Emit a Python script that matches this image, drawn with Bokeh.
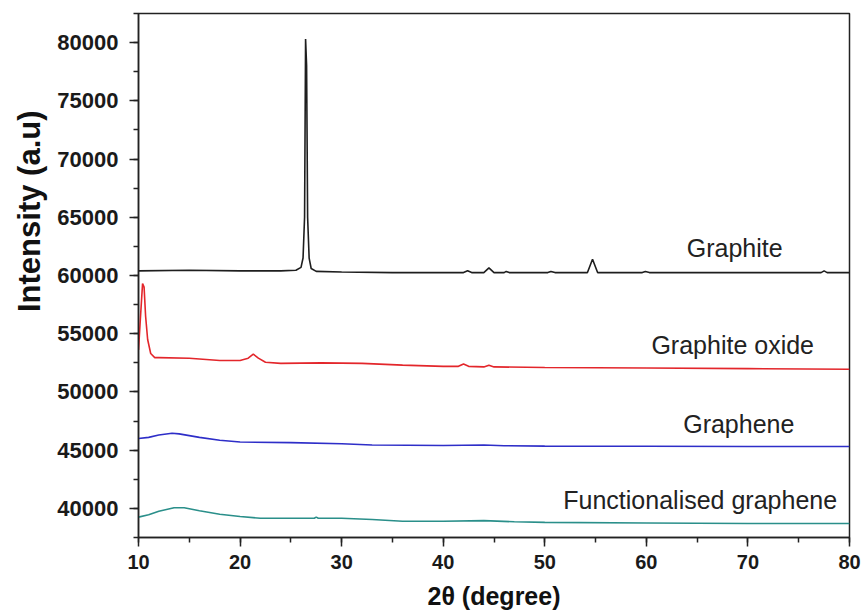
from bokeh.plotting import figure
from bokeh.models import SingleIntervalTicker, NumeralTickFormatter, Range1d, Title
from bokeh.core.properties import value
from bokeh.embed import file_html
from bokeh.resources import INLINE

# ---- data ----
graphite_x = [10, 15, 20, 24, 25.5, 26.0, 26.2, 26.35, 26.45, 26.55, 26.65, 26.8, 27.0, 27.5,
              30, 35, 40, 42.0, 42.4, 42.8, 44.0, 44.5, 45.0, 46.0, 46.2, 46.5, 50.3, 50.6,
              51.0, 54.2, 54.7, 55.2, 59.6, 59.9, 60.3, 70, 77.2, 77.5, 77.8, 80]
graphite_y = [60400, 60450, 60400, 60400, 60450, 60700, 61500, 65000, 80300, 78000, 65000,
              61500, 60600, 60350, 60300, 60250, 60250, 60250, 60400, 60250, 60250, 60650,
              60250, 60250, 60350, 60250, 60250, 60350, 60250, 60250, 61400, 60250, 60250,
              60350, 60250, 60250, 60250, 60400, 60250, 60250]

oxide_x = [10.0, 10.2, 10.4, 10.55, 10.7, 10.9, 11.2, 11.6, 12, 15, 18, 20, 20.8, 21.3, 21.8,
           22.5, 24, 28, 32, 36, 40, 41.5, 42, 42.5, 44, 44.5, 45, 50, 60, 70, 80]
oxide_y = [53600, 56500, 59300, 59000, 56500, 54500, 53300, 52950, 52950, 52900, 52700, 52700,
           52900, 53250, 52900, 52550, 52450, 52500, 52450, 52300, 52200, 52200, 52400, 52200,
           52150, 52300, 52150, 52100, 52050, 52000, 51950]

graphene_x = [10, 11, 12, 13.3, 14, 16, 18, 20, 25, 30, 33, 40, 44, 46, 50, 60, 70, 80]
graphene_y = [46000, 46100, 46300, 46450, 46400, 46100, 45850, 45700, 45650, 45550, 45450,
              45400, 45450, 45380, 45350, 45330, 45320, 45320]

func_x = [10, 11, 12, 13.5, 14.5, 16, 18, 20, 22, 25, 27.3, 27.5, 27.7, 30, 33, 36, 40, 44,
          47, 50, 60, 70, 80]
func_y = [39250, 39450, 39750, 40050, 40050, 39800, 39500, 39300, 39150, 39150, 39150, 39250,
          39150, 39150, 39050, 38900, 38900, 38950, 38850, 38800, 38750, 38700, 38700]

series_names = ["Graphite", "Graphite oxide", "Graphene", "Functionalised graphene"]
series_colors = ["#1e1e1e", "#e3262b", "#2e2ec8", "#2a8f8a"]

# label anchor positions (data coords: x centre, y baseline)
label_x = [68.7, 68.5, 69.1, 65.3]
label_y = [62365, 54053, 47284, 40686]

p = figure(width=863, height=616, output_backend="svg", toolbar_location=None,
           x_range=Range1d(10, 80), y_range=Range1d(37500, 82500),
           min_border_left=138, min_border_top=13, min_border_right=14, min_border_bottom=79)

p.xgrid.visible = False
p.ygrid.visible = False
p.outline_line_color = "#222222"
p.outline_line_width = 1.5
p.background_fill_color = "white"
p.border_fill_color = "white"

xs = [graphite_x, oxide_x, graphene_x, func_x]
ys = [graphite_y, oxide_y, graphene_y, func_y]
for x, y, c in zip(xs, ys, series_colors):
    p.line(x, y, line_color=c, line_width=1.6)

p.text(x=label_x, y=label_y, text=series_names, text_align="center",
       text_baseline="alphabetic", text_font=value("Liberation Sans"),
       text_font_size="25px", text_color="#222222")

for ax in (p.xaxis[0], p.yaxis[0]):
    ax.axis_line_width = 1.5
    ax.axis_line_color = "#222222"
    ax.major_tick_line_color = "#222222"
    ax.minor_tick_line_color = "#222222"
    ax.major_tick_line_width = 1.5
    ax.minor_tick_line_width = 1.5
    ax.major_tick_in = 0
    ax.major_tick_out = 9
    ax.minor_tick_in = 0
    ax.minor_tick_out = 5
    ax.major_label_text_font = "Liberation Sans"
    ax.major_label_text_font_style = "bold"
    ax.major_label_text_color = "#1a1a1a"
    ax.axis_label_text_font = "Liberation Sans"
    ax.axis_label_text_font_style = "bold"
    ax.axis_label_text_color = "#111111"

p.xaxis.ticker = SingleIntervalTicker(interval=10, num_minor_ticks=2)
p.yaxis.ticker = SingleIntervalTicker(interval=5000, num_minor_ticks=2)
p.yaxis.formatter = NumeralTickFormatter(format="0")

p.xaxis.major_label_text_font_size = "20px"
p.yaxis.major_label_text_font_size = "22px"

p.xaxis.axis_label = "2θ (degree)"
p.xaxis.axis_label_text_font_size = "25px"
p.xaxis.major_label_standoff = 8
p.xaxis.axis_label_standoff = 10

p.yaxis.major_label_standoff = 11

# y-axis title, placed in the left panel above the axis centre as in the reference
ytitle = Title(text="Intensity (a.u)", align="right", offset=97, standoff=15,
               text_font="Liberation Sans", text_font_style="bold",
               text_font_size="31px", text_color="#111111")
p.add_layout(ytitle, "left")

open("out.html", "w").write(file_html(p, INLINE))
